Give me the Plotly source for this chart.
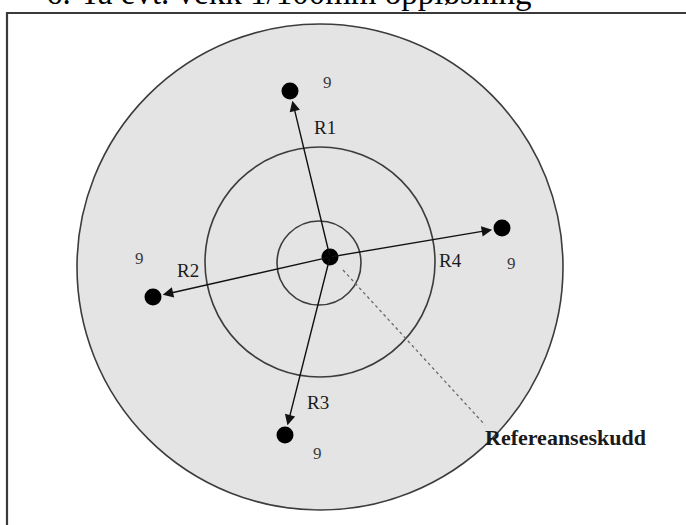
import plotly.graph_objects as go
import math

# ---- data (pixel-like units) ----
ring_cx = [320, 320, 319]
ring_cy = [267, 262, 263]
ring_r = [243, 115, 42]
ring_fill = ["#e4e4e4", "rgba(0,0,0,0)", "rgba(0,0,0,0)"]

center_x = [330]
center_y = [257]

shot_x = [290, 153, 285, 502]
shot_y = [91, 297, 435, 228]

r_labels = ["R1", "R2", "R3", "R4"]
r_label_x = [325, 188, 318, 450]
r_label_y = [127, 270, 402, 260]

score_labels = ["9", "9", "9", "9"]
score_x = [327, 139, 317, 511]
score_y = [82, 258, 453, 263]

ref_line_x = [343, 485]
ref_line_y = [270, 425]
ref_label = "Refereanseskudd"
ref_label_xy = (483, 437)

heading_num = "6."
heading_text = "Ta evt. vekk 1/100mm oppløsning"

box_x0, box_y0 = 7, 13

W, H = 686, 525

fig = go.Figure()

shapes = []
# frame box
shapes.append(dict(type="rect", xref="x", yref="y", x0=box_x0, y0=box_y0, x1=W + 50, y1=H + 50,
                   line=dict(color="#3a3a3a", width=2.2), fillcolor="rgba(0,0,0,0)", layer="below"))
for cx, cy, r, fc in zip(ring_cx, ring_cy, ring_r, ring_fill):
    shapes.append(dict(type="circle", xref="x", yref="y", x0=cx - r, y0=cy - r, x1=cx + r, y1=cy + r,
                       line=dict(color="#3c3c3c", width=1.6), fillcolor=fc, layer="below"))

# dotted reference line
fig.add_trace(go.Scatter(x=ref_line_x, y=ref_line_y, mode="lines",
                         line=dict(color="#6a6a6a", width=1.3, dash="dot"), hoverinfo="skip"))

# shots
fig.add_trace(go.Scatter(x=center_x + shot_x, y=center_y + shot_y, mode="markers",
                         marker=dict(color="black", size=17, line=dict(width=0)), hoverinfo="skip"))

annotations = []
# arrows from reference shot to each shot
for sx, sy in zip(shot_x, shot_y):
    dx, dy = sx - center_x[0], sy - center_y[0]
    d = math.hypot(dx, dy)
    tx, ty = sx - dx / d * 10, sy - dy / d * 10
    annotations.append(dict(x=tx, y=ty, ax=center_x[0], ay=center_y[0], xref="x", yref="y",
                            axref="x", ayref="y", text="", showarrow=True,
                            arrowhead=2, arrowsize=1.5, arrowwidth=1.4, arrowcolor="#111"))

for t, x, y in zip(r_labels, r_label_x, r_label_y):
    annotations.append(dict(x=x, y=y, xref="x", yref="y", text=t, showarrow=False,
                            font=dict(family="Liberation Serif", size=19, color="#1a1a1a"),
                            xanchor="center", yanchor="middle"))

for t, x, y in zip(score_labels, score_x, score_y):
    annotations.append(dict(x=x, y=y, xref="x", yref="y", text=t, showarrow=False,
                            font=dict(family="Liberation Serif", size=17, color="#3a3a3a"),
                            xanchor="center", yanchor="middle"))

annotations.append(dict(x=ref_label_xy[0], y=ref_label_xy[1], xref="x", yref="y", text=ref_label,
                        showarrow=False, font=dict(family="Liberation Serif", size=22, color="#1a1a1a",
                                                   weight="bold"),
                        xanchor="left", yanchor="middle"))

annotations.append(dict(x=44, y=13, xref="x", yref="y", text=heading_num, showarrow=False,
                        font=dict(family="Liberation Serif", size=33, color="black"),
                        xanchor="left", yanchor="bottom"))
annotations.append(dict(x=78, y=13, xref="x", yref="y", text=heading_text, showarrow=False,
                        font=dict(family="Liberation Serif", size=33, color="black"),
                        xanchor="left", yanchor="bottom"))

fig.update_layout(
    width=W, height=H,
    margin=dict(l=0, r=0, t=0, b=0),
    paper_bgcolor="white", plot_bgcolor="white",
    showlegend=False,
    shapes=shapes,
    annotations=annotations,
    xaxis=dict(range=[0, W], visible=False, fixedrange=True),
    yaxis=dict(range=[H, 0], visible=False, fixedrange=True),
)

fig.write_html("out.html", config={"displayModeBar": False, "staticPlot": True},
               post_script="document.body.style.margin='0';document.body.style.overflow='hidden';")
